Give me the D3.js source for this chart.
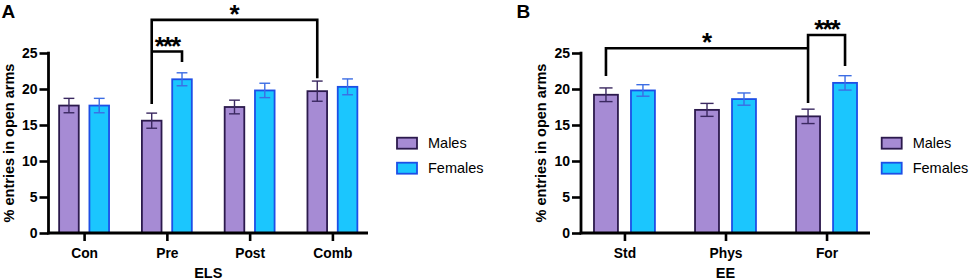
<!DOCTYPE html>
<html>
<head>
<meta charset="utf-8">
<script src="https://cdn.jsdelivr.net/npm/d3@7"></script>
<style>
  html, body { margin: 0; padding: 0; background: #fff; }
  svg { display: block; font-family: "Liberation Sans", Arial, Helvetica, sans-serif; }
</style>
</head>
<body>
<svg id="chart" width="969" height="280"></svg>
<script>
// ---------- data ----------
const seriesNames = ["Males", "Females"];
const yTicks = [0, 5, 10, 15, 20, 25];

const elsCats = ["Con", "Pre", "Post", "Comb"];
const elsMales = [17.7, 15.6, 17.5, 19.7];
const elsMalesErr = [1.0, 1.05, 0.95, 1.4];
const elsFemales = [17.7, 21.35, 19.8, 20.3];
const elsFemalesErr = [1.0, 0.9, 1.0, 1.1];

const eeCats = ["Std", "Phys", "For"];
const eeMales = [19.2, 17.1, 16.2];
const eeMalesErr = [0.95, 0.9, 1.0];
const eeFemales = [19.8, 18.6, 20.85];
const eeFemalesErr = [0.8, 0.85, 1.0];

// significance comparisons: [category, series] endpoints, bar level and leg ends in data units
const elsComparisons = [
  { a: ["Pre", 0], b: ["Comb", 0], level: 29.6, legA: 17.9, legB: 21.5, label: "*" },
  { a: ["Pre", 0], b: ["Pre", 1], level: 25.2, legA: 25.2, legB: 23.75, label: "***" }
];
const eeComparisons = [
  { a: ["Std", 0], b: ["For", 0], level: 25.65, legA: 21.8, legB: 25.65, label: "*" },
  { a: ["For", 0], b: ["For", 1], level: 27.5, legA: 18.05, legB: 23.2, label: "***" }
];

// ---------- style ----------
const fills = ["#a68bd4", "#1bc6fe"];
const strokes = ["#2c1a4d", "#1d4fe6"];
const errColors = ["#3a2860", "#3c6de4"];

const svg = d3.select("#chart");

function panel(opts) {
  const { letter, letterX, x0, x1, cats, males, malesErr, females, femalesErr,
          comparisons, xTitle, legendX } = opts;
  const yTop = 53, yBot = 233;
  const y = d3.scaleLinear().domain([0, 25]).range([yBot, yTop]);
  const x = d3.scalePoint().domain(cats).range([x0, x1]).padding(0.43);
  const step = x.step();
  const barW = step * 0.237;
  const off = step * 0.183;
  const series = [
    cats.map((c, i) => ({ c, v: males[i], e: malesErr[i], s: 0 })),
    cats.map((c, i) => ({ c, v: females[i], e: femalesErr[i], s: 1 }))
  ];
  const cx = (c, s) => x(c) + (s === 0 ? -off : off);

  const g = svg.append("g");

  // panel letter
  g.append("text").attr("x", letterX).attr("y", 18.3)
    .attr("font-size", 19).attr("font-weight", "bold").text(letter);

  // bars
  series.forEach((arr, s) => {
    g.append("g").selectAll("rect").data(arr).join("rect")
      .attr("x", d => cx(d.c, s) - barW / 2)
      .attr("y", d => y(d.v))
      .attr("width", barW)
      .attr("height", d => y(0) - y(d.v))
      .attr("fill", fills[s])
      .attr("stroke", strokes[s])
      .attr("stroke-width", 1.8);
  });

  // error bars
  const capW = barW * 0.55;
  series.forEach((arr, s) => {
    const eg = g.append("g").attr("stroke", errColors[s]).attr("stroke-width", 1.4).attr("fill", "none");
    eg.selectAll("line.v").data(arr).join("line").attr("class", "v")
      .attr("x1", d => cx(d.c, s)).attr("x2", d => cx(d.c, s))
      .attr("y1", d => y(d.v + d.e)).attr("y2", d => y(d.v - d.e));
    eg.selectAll("line.t").data(arr).join("line").attr("class", "t")
      .attr("x1", d => cx(d.c, s) - capW / 2).attr("x2", d => cx(d.c, s) + capW / 2)
      .attr("y1", d => y(d.v + d.e)).attr("y2", d => y(d.v + d.e));
    eg.selectAll("line.b").data(arr).join("line").attr("class", "b")
      .attr("x1", d => cx(d.c, s) - capW / 2).attr("x2", d => cx(d.c, s) + capW / 2)
      .attr("y1", d => y(d.v - d.e)).attr("y2", d => y(d.v - d.e));
  });

  // y axis
  const yAxis = d3.axisLeft(y).tickValues(yTicks).tickSize(9).tickSizeOuter(0).tickPadding(2);
  const ya = g.append("g").attr("transform", `translate(${x0},0)`).call(yAxis);
  ya.select(".domain").remove();
  ya.selectAll(".tick line").attr("stroke", "#000").attr("stroke-width", 2.6);
  ya.selectAll(".tick text").attr("font-size", 14).attr("font-weight", "bold")
    .attr("fill", "#000").attr("font-family", "Liberation Sans, Arial, sans-serif");
  g.append("line").attr("x1", x0).attr("x2", x0).attr("y1", y(25) - 1.3).attr("y2", y(0) + 1.3)
    .attr("stroke", "#000").attr("stroke-width", 2.8);

  // x axis
  const xAxis = d3.axisBottom(x).tickSize(8).tickSizeOuter(0).tickPadding(7.5);
  const xa = g.append("g").attr("transform", `translate(0,${yBot})`).call(xAxis);
  xa.select(".domain").remove();
  xa.selectAll(".tick line").attr("stroke", "#000").attr("stroke-width", 2.6);
  xa.selectAll(".tick text").attr("font-size", 13.8).attr("font-weight", "bold")
    .attr("fill", "#000").attr("font-family", "Liberation Sans, Arial, sans-serif");
  g.append("line").attr("x1", x0 - 1.3).attr("x2", x1).attr("y1", yBot).attr("y2", yBot)
    .attr("stroke", "#000").attr("stroke-width", 2.8);

  // axis titles
  g.append("text").attr("x", (x0 + x1) / 2).attr("y", 278)
    .attr("text-anchor", "middle").attr("font-size", 14.5).attr("font-weight", "bold").text(xTitle);
  g.append("text")
    .attr("transform", `translate(${x0 - 35},${(yTop + yBot) / 2}) rotate(-90)`)
    .attr("text-anchor", "middle").attr("font-size", 14.5).attr("font-weight", "bold")
    .text("% entries in open arms");

  // significance brackets
  const bg = g.append("g").attr("stroke", "#000").attr("stroke-width", 2.6).attr("fill", "none");
  comparisons.forEach(cmp => {
    const xa_ = cx(cmp.a[0], cmp.a[1]);
    const xb_ = cx(cmp.b[0], cmp.b[1]);
    const yl = y(cmp.level);
    bg.append("path")
      .attr("d", `M${xa_},${y(cmp.legA)}V${yl}H${xb_}V${y(cmp.legB)}`)
      .attr("stroke-linejoin", "miter").attr("stroke-linecap", "butt");
    g.append("text").attr("x", (xa_ + xb_) / 2).attr("y", yl + 3)
      .attr("text-anchor", "middle").attr("font-size", 26).attr("font-weight", "bold")
      .attr("letter-spacing", cmp.label.length > 1 ? -2 : 0)
      .text(cmp.label);
  });

  // legend
  const lg = g.append("g");
  seriesNames.forEach((name, i) => {
    const ly = 137.7 + i * 25;
    lg.append("rect").attr("x", legendX).attr("y", ly).attr("width", 20).attr("height", 11)
      .attr("fill", fills[i]).attr("stroke", strokes[i]).attr("stroke-width", 1.8);
    lg.append("text").attr("x", legendX + 31).attr("y", ly + 10.6)
      .attr("font-size", 14.5).attr("fill", "#000").text(name);
  });
}

panel({
  letter: "A", letterX: 1.5, x0: 48.5, x1: 368,
  cats: elsCats, males: elsMales, malesErr: elsMalesErr,
  females: elsFemales, femalesErr: elsFemalesErr,
  comparisons: elsComparisons, xTitle: "ELS", legendX: 397
});
panel({
  letter: "B", letterX: 516.5, x0: 581, x1: 870,
  cats: eeCats, males: eeMales, malesErr: eeMalesErr,
  females: eeFemales, femalesErr: eeFemalesErr,
  comparisons: eeComparisons, xTitle: "EE", legendX: 881.7
});
</script>
</body>
</html>
